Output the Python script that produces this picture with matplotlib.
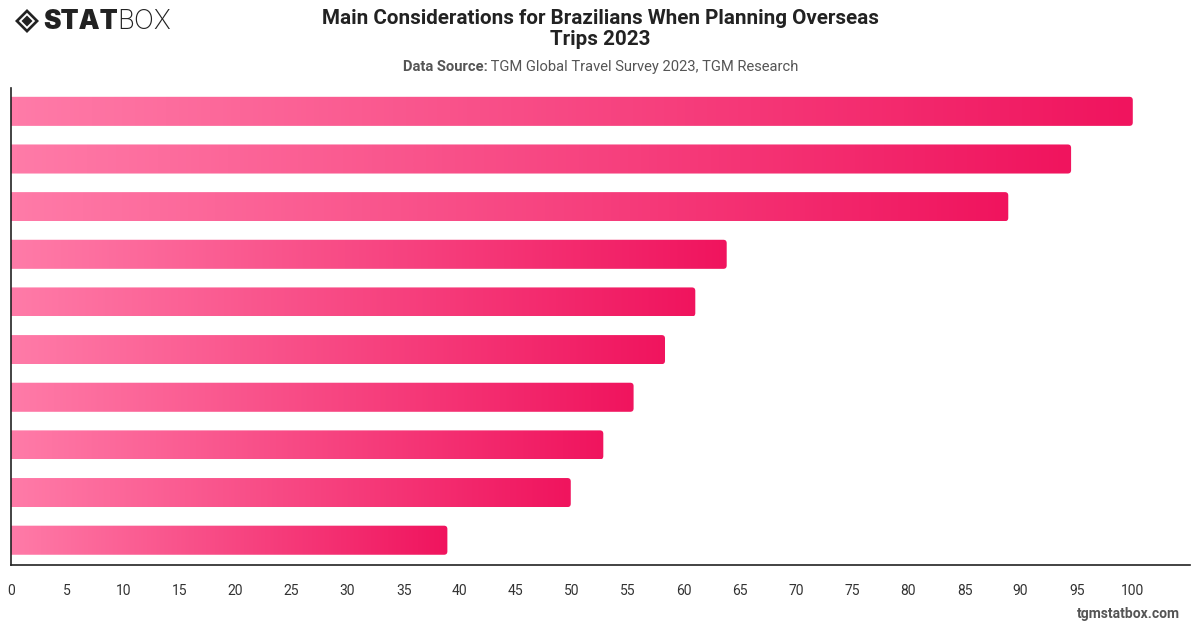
import numpy as np
import matplotlib
matplotlib.use("Agg")
import matplotlib.pyplot as plt
from matplotlib.patches import FancyBboxPatch, Polygon
from matplotlib.colors import LinearSegmentedColormap

# ---- data ----
categories = ["Item 1", "Item 2", "Item 3", "Item 4", "Item 5",
              "Item 6", "Item 7", "Item 8", "Item 9", "Item 10"]
values = [100.0, 94.5, 88.9, 63.8, 61.0, 58.3, 55.5, 52.8, 49.9, 38.9]
xticks = list(range(0, 101, 5))

title = "Main Considerations for Brazilians When Planning Overseas\nTrips 2023"
source_bold = "Data Source:"
source_text = " TGM Global Travel Survey 2023, TGM Research"

plt.rcParams['font.family'] = ['Roboto', 'DejaVu Sans']

W, H = 1200, 628
fig = plt.figure(figsize=(W / 100, H / 100), dpi=100)
ax_l, ax_r, ax_t, ax_b = 11, 1190, 88, 565
ax = fig.add_axes([ax_l / W, 1 - ax_b / H, (ax_r - ax_l) / W, (ax_b - ax_t) / H])

xmax = 105.1
n = len(values)
ax.set_xlim(0, xmax)
ax.set_ylim(n - 0.5 + 0.02, -0.5 + 0.01)

cmap = LinearSegmentedColormap.from_list("pk", ["#FF7BA8", "#F0145E"])
grad = np.linspace(0, 1, 256).reshape(1, -1)

px_per_x = (ax_r - ax_l) / xmax
px_per_y = (ax_b - ax_t) / n
bh = 0.61
for i, v in enumerate(values):
    y0 = i - bh / 2
    patch = FancyBboxPatch((-0.5, y0), v + 0.5, bh,
                           boxstyle="round,pad=0,rounding_size=0.3",
                           mutation_aspect=(1 / px_per_y) / (1 / px_per_x),
                           facecolor="none", edgecolor="none", transform=ax.transData)
    ax.add_patch(patch)
    im = ax.imshow(grad, cmap=cmap, aspect="auto", extent=(0, v, y0 + bh, y0),
                   interpolation="bilinear", zorder=2)
    im.set_clip_path(patch)

ax.set_xlim(0, xmax)
ax.set_ylim(n - 0.5 + 0.02, -0.5 + 0.01)
ax.set_yticks([])
ax.set_xticks(xticks)
ax.set_xticklabels([str(t) for t in xticks])
ax.tick_params(axis="x", length=0, pad=14, labelsize=10, labelcolor="#333333")
for s in ["top", "right"]:
    ax.spines[s].set_visible(False)
for s in ["left", "bottom"]:
    ax.spines[s].set_color("#222222")
    ax.spines[s].set_linewidth(1.2)

# title & subtitle
fig.text(0.5, 1 - 29 / H, title, ha="center", va="center", fontsize=14.9,
         fontweight="bold", color="#222222", linespacing=1.12)
t1 = fig.text(0.5, 1 - 67 / H, source_bold + source_text, ha="center", va="center",
              fontsize=10.6, color="#555555", alpha=0)
fig.canvas.draw()
r = fig.canvas.get_renderer()
bb = t1.get_window_extent(r)
x0 = bb.x0
tb = fig.text(x0 / W, 1 - 67 / H, source_bold, ha="left", va="center", fontsize=10.6,
              fontweight="bold", color="#555555")
bbb = tb.get_window_extent(r)
fig.text(bbb.x1 / W, 1 - 67 / H, source_text, ha="left", va="center", fontsize=10.6,
         color="#555555")

# logo
def pix(x, y):
    return (x, H - y)
cx, cy = 27, 21
for s, col in [(12, "#222222"), (8.2, "white"), (5.5, "#222222")]:
    p = Polygon([pix(cx - s, cy), pix(cx, cy - s), pix(cx + s, cy), pix(cx, cy + s)],
                closed=True, transform=None, facecolor=col, edgecolor="none")
    fig.patches.append(p)
lt = fig.text(43 / W, 1 - 22 / H, "STAT", ha="left", va="center", fontsize=19,
              fontweight="black", color="#222222", family=["Inter", "DejaVu Sans"])
fig.canvas.draw()
lb = lt.get_window_extent(r)
fig.text(lb.x1 / W, 1 - 22 / H, "BOX", ha="left", va="center", fontsize=19,
         fontweight="light", color="#222222", family=["Inter", "DejaVu Sans"])

fig.text(1180 / W, 1 - 614 / H, "tgmstatbox.com", ha="right", va="center", fontsize=10,
         fontweight="bold", color="#555555")

fig.savefig("out.png", dpi=100)
